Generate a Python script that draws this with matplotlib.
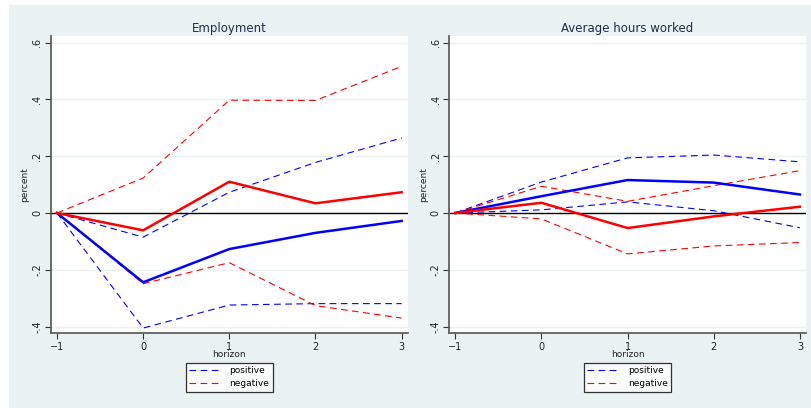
import matplotlib
matplotlib.use("Agg")
import matplotlib.pyplot as plt
from matplotlib.patches import Rectangle
from matplotlib.lines import Line2D

horizon = [-1, 0, 1, 2, 3]

# Employment
emp_pos = [0, -0.244, -0.127, -0.070, -0.028]
emp_pos_hi = [0, -0.085, 0.073, 0.178, 0.264]
emp_pos_lo = [0, -0.405, -0.324, -0.319, -0.319]
emp_neg = [0, -0.061, 0.110, 0.034, 0.073]
emp_neg_hi = [0, 0.123, 0.397, 0.396, 0.516]
emp_neg_lo = [0, -0.249, -0.175, -0.326, -0.370]

# Average hours worked
hrs_pos = [0, 0.059, 0.116, 0.107, 0.065]
hrs_pos_hi = [0, 0.109, 0.194, 0.204, 0.180]
hrs_pos_lo = [0, 0.011, 0.039, 0.008, -0.052]
hrs_neg = [0, 0.036, -0.053, -0.012, 0.022]
hrs_neg_hi = [0, 0.094, 0.041, 0.096, 0.149]
hrs_neg_lo = [0, -0.021, -0.144, -0.116, -0.104]

yticks = [-0.4, -0.2, 0, 0.2, 0.4, 0.6]
ytick_labels = ["-.4", "-.2", "0", ".2", ".4", ".6"]
titles = ["Employment", "Average hours worked"]
legend_labels = ["positive", "negative"]

BG = "#eaf2f3"
DASH = (0, (6, 4))

fig = plt.figure(figsize=(8.11, 4.08), dpi=100, facecolor="white")
fig.patches.append(Rectangle((9 / 811, 0), 1 - 9 / 811, 403 / 408,
                             transform=fig.transFigure, facecolor=BG,
                             edgecolor="none", zorder=-10))

panels = [
    (0.0625, (emp_pos, emp_pos_hi, emp_pos_lo, emp_neg, emp_neg_hi, emp_neg_lo)),
    (0.5536, (hrs_pos, hrs_pos_hi, hrs_pos_lo, hrs_neg, hrs_neg_hi, hrs_neg_lo)),
]

for i, (x0, series) in enumerate(panels):
    pos, pos_hi, pos_lo, neg, neg_hi, neg_lo = series
    ax = fig.add_axes([x0, 0.183, 0.4402, 0.7295])
    ax.set_facecolor("white")
    ax.set_xlim(-1.073, 3.07)
    ax.set_ylim(-0.4236, 0.624)
    for yt in yticks:
        ax.axhline(yt, color=BG, lw=1.0, zorder=0)
    ax.axhline(0, color="black", lw=1.0, zorder=1)

    ax.plot(horizon, pos_hi, color="#0000ff", lw=0.8, linestyle=DASH)
    ax.plot(horizon, pos_lo, color="#0000ff", lw=0.8, linestyle=DASH)
    ax.plot(horizon, neg_hi, color="#ff0000", lw=0.8, linestyle=DASH)
    ax.plot(horizon, neg_lo, color="#ff0000", lw=0.8, linestyle=DASH)
    ax.plot(horizon, pos, color="#0000ff", lw=1.8)
    ax.plot(horizon, neg, color="#ff0000", lw=1.8)

    ax.set_xticks(horizon)
    ax.set_yticks(yticks)
    ax.set_yticklabels(ytick_labels, rotation=90, va="center")
    ax.tick_params(axis="both", labelsize=7, length=4, width=0.8,
                   color="#333333", labelcolor="#222222", pad=2)
    for s in ["top", "right"]:
        ax.spines[s].set_visible(False)
    for s in ["left", "bottom"]:
        ax.spines[s].set_color("#555555")
        ax.spines[s].set_linewidth(1.2)

    ax.set_title(titles[i], fontsize=8.5, color="#1c2e4a", pad=3)
    ax.set_xlabel("horizon", fontsize=6.5, labelpad=-1, color="#222222")
    ax.set_ylabel("percent", fontsize=6.5, labelpad=2, color="#222222")

    handles = [Line2D([], [], color="#0000ff", lw=0.8, linestyle=DASH),
               Line2D([], [], color="#ff0000", lw=0.8, linestyle=DASH)]
    leg = ax.legend(handles, legend_labels, loc="upper center",
                    bbox_to_anchor=(0.5, -0.085), fontsize=6.5, frameon=True,
                    fancybox=False, handlelength=3.6, labelspacing=0.45,
                    borderpad=0.35, handletextpad=0.9)
    leg.get_frame().set_edgecolor("black")
    leg.get_frame().set_linewidth(0.9)

fig.savefig("out.png", dpi=100, facecolor="white")
